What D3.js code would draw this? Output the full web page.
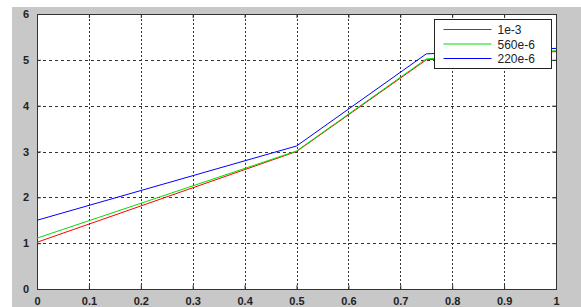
<!DOCTYPE html>
<html>
<head>
<meta charset="utf-8">
<script src="https://cdn.jsdelivr.net/npm/d3@7"></script>
<style>
  body { margin: 0; background: #fff; }
  svg { display: block; }
  text { font-family: "Liberation Sans", Arial, sans-serif; }
</style>
</head>
<body>
<svg width="581" height="307"></svg>
<script>
const xValues = [0, 0.5, 0.75, 1];
const series1e3 = [1.02, 3.0, 5.0, 5.18];
const series560e6 = [1.11, 3.01, 5.02, 5.2];
const series220e6 = [1.5, 3.12, 5.13, 5.25];
const seriesNames = ['1e-3', '560e-6', '220e-6'];
const seriesColors = ['#ff0000', '#00e000', '#0000ff'];
const xTicks = d3.range(0, 11).map(d => d / 10);
const yTicks = [0, 1, 2, 3, 4, 5, 6];

const svg = d3.select('svg');

// grey figure background
svg.append('rect')
  .attr('x', 12).attr('y', 7).attr('width', 569).attr('height', 300)
  .attr('fill', '#c8c8c8');

const x = d3.scaleLinear().domain([0, 1]).range([37, 556]);
const y = d3.scaleLinear().domain([0, 6]).range([289, 14]);

svg.append('rect')
  .attr('x', x(0)).attr('y', y(6))
  .attr('width', x(1) - x(0)).attr('height', y(0) - y(6))
  .attr('fill', '#fff');

// ---------- grid ----------
const grid = svg.append('g').attr('stroke', '#333').attr('stroke-width', 1);
grid.selectAll('.hg').data(yTicks.slice(1, -1)).join('line')
  .attr('x1', x(0)).attr('x2', x(1))
  .attr('y1', d => Math.round(y(d)) + 0.5).attr('y2', d => Math.round(y(d)) + 0.5)
  .attr('stroke-dasharray', '3,3');
grid.selectAll('.vg').data(xTicks.slice(1, -1)).join('line')
  .attr('y1', y(0)).attr('y2', y(6))
  .attr('x1', d => Math.round(x(d)) + 0.5).attr('x2', d => Math.round(x(d)) + 0.5)
  .attr('stroke-dasharray', '2,2');

// ---------- axes ----------
const xAxisB = d3.axisBottom(x).tickValues(xTicks).tickSize(-4).tickPadding(8)
  .tickFormat(d => d === 0 || d === 1 ? d3.format('d')(d) : d3.format('.1f')(d));
const xAxisT = d3.axisTop(x).tickValues(xTicks).tickSize(-4).tickFormat('');
const yAxisL = d3.axisLeft(y).tickValues(yTicks).tickSize(-4).tickPadding(8)
  .tickFormat(d3.format('d'));
const yAxisR = d3.axisRight(y).tickValues(yTicks).tickSize(-4).tickFormat('');

const styleAxis = g => {
  g.select('.domain').attr('stroke', '#333');
  g.selectAll('.tick line').attr('stroke', '#333');
  g.selectAll('text').attr('fill', '#222').attr('font-size', 11).attr('font-weight', 'bold');
};
svg.append('g').attr('transform', `translate(0,${y(0)})`).call(xAxisB).call(styleAxis);
svg.append('g').attr('transform', `translate(0,${y(6)})`).call(xAxisT).call(styleAxis);
svg.append('g').attr('transform', `translate(${x(0)},0)`).call(yAxisL).call(styleAxis);
svg.append('g').attr('transform', `translate(${x(1)},0)`).call(yAxisR).call(styleAxis);
svg.selectAll('.domain').attr('d', null);
svg.append('rect')
  .attr('x', x(0) + 0.5).attr('y', y(6) + 0.5)
  .attr('width', x(1) - x(0)).attr('height', y(0) - y(6))
  .attr('fill', 'none').attr('stroke', '#333');

// ---------- lines ----------
const line = d3.line().x((d, i) => x(xValues[i])).y(d => y(d));
[series1e3, series560e6, series220e6].forEach((s, i) => {
  svg.append('path').datum(s)
    .attr('d', line)
    .attr('fill', 'none')
    .attr('stroke', seriesColors[i])
    .attr('stroke-width', 1);
});

// ---------- legend ----------
const legend = svg.append('g').attr('transform', 'translate(434.5,19.5)');
legend.append('rect').attr('width', 117).attr('height', 49)
  .attr('fill', '#fff').attr('stroke', '#222');
seriesNames.forEach((name, i) => {
  const ly = 10 + i * 14.5;
  legend.append('line').attr('x1', 9).attr('x2', 57).attr('y1', ly).attr('y2', ly)
    .attr('stroke', seriesColors[i]);
  legend.append('text').attr('x', 63).attr('y', ly + 4.5)
    .attr('font-size', 12).attr('fill', '#222').text(name);
});
</script>
</body>
</html>
